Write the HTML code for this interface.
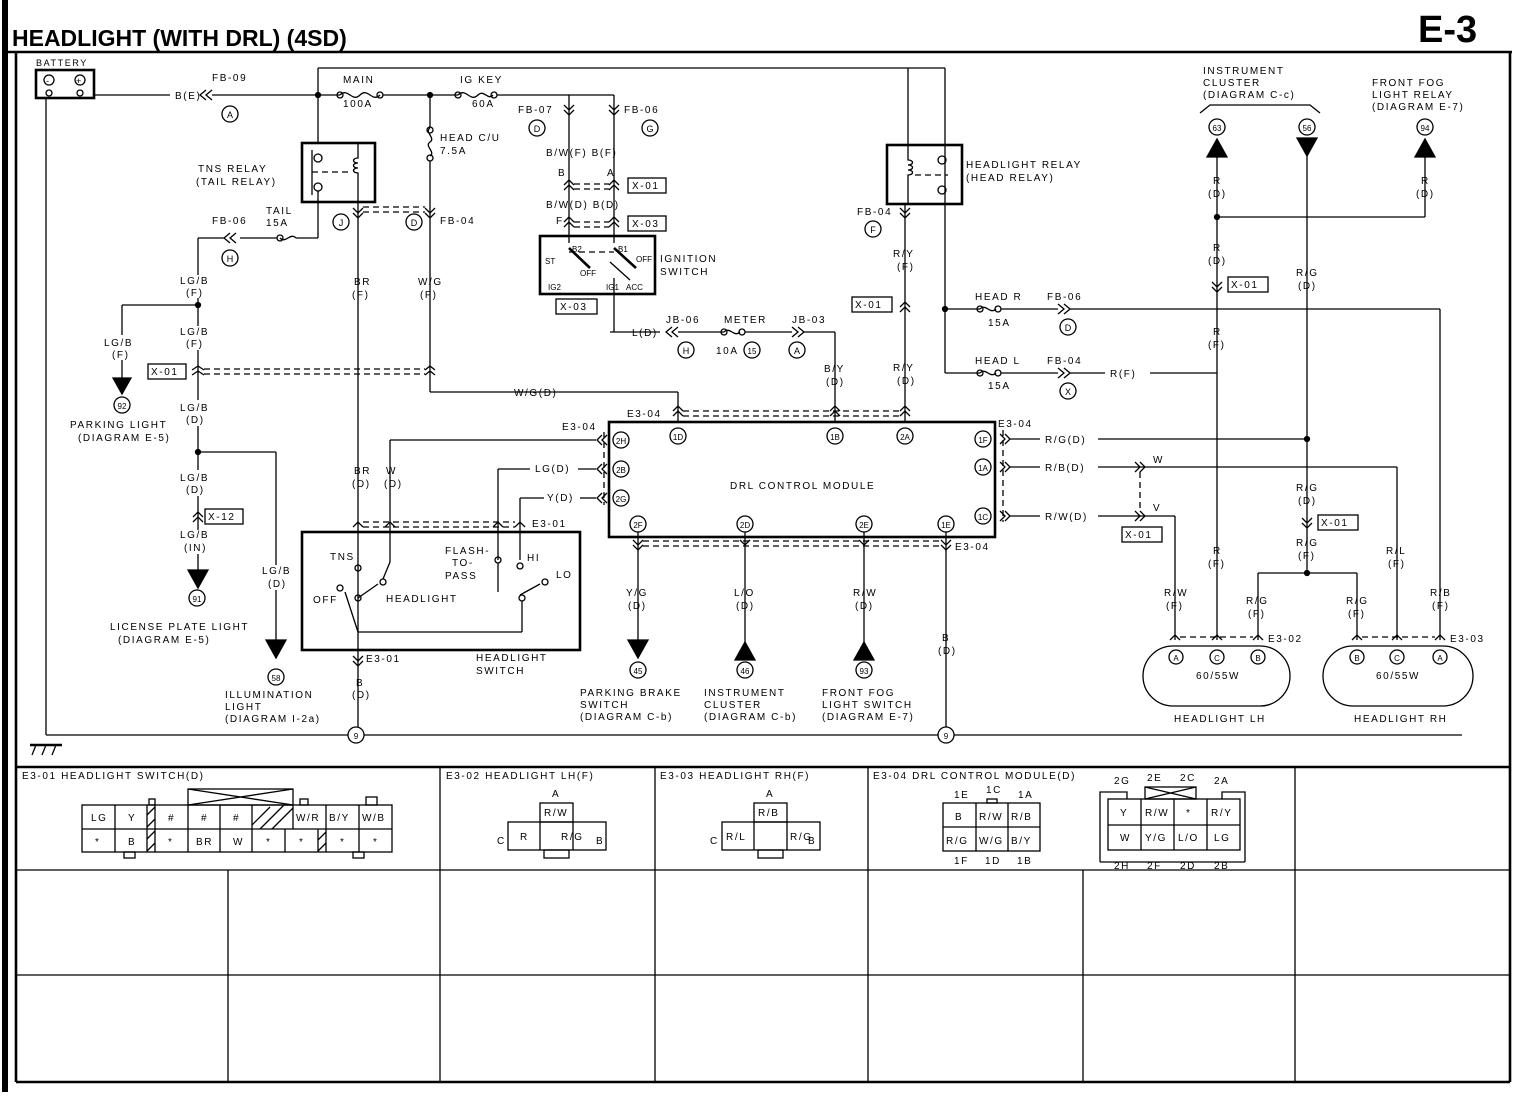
<!DOCTYPE html>
<html><head><meta charset="utf-8">
<style>
html,body{margin:0;padding:0;background:#fff;}
svg{display:block;}
text{font-family:"Liberation Sans",sans-serif;font-size:10px;letter-spacing:1.6px;fill:#000;}
.b{font-weight:bold;}
.c{text-anchor:middle;}
line,path,rect,circle,ellipse,polyline{stroke:#000;fill:none;stroke-width:1.3;}
.t{stroke-width:2.6;}
.d{stroke-dasharray:6 4;}
.f{fill:#000;}
</style></head><body>
<svg width="1520" height="1104" viewBox="0 0 1520 1104" xmlns="http://www.w3.org/2000/svg">
<!-- frame -->
<rect x="2" y="0" width="6" height="1092" class="f" style="stroke:none"/>
<text x="12" y="46" class="b" style="font-size:23px;letter-spacing:0">HEADLIGHT (WITH DRL) (4SD)</text>
<text x="1418" y="42" class="b" style="font-size:38px;letter-spacing:0">E-3</text>
<line x1="8" y1="52" x2="1512" y2="52" class="t"/>
<line x1="16" y1="52" x2="16" y2="1082" class="t"/>
<line x1="1510" y1="52" x2="1510" y2="1082" class="t"/>
<line x1="16" y1="1082" x2="1510" y2="1082" class="t"/>
<line x1="16" y1="767" x2="1510" y2="767" class="t"/>
<line x1="16" y1="870" x2="1510" y2="870"/>
<line x1="16" y1="975" x2="1510" y2="975"/>
<g>
<line x1="440" y1="767" x2="440" y2="1082"/><line x1="655" y1="767" x2="655" y2="1082"/>
<line x1="868" y1="767" x2="868" y2="1082"/><line x1="1295" y1="767" x2="1295" y2="1082"/>
<line x1="228" y1="870" x2="228" y2="1082"/><line x1="1083" y1="870" x2="1083" y2="1082"/>
</g>

<!-- battery -->
<text x="36" y="66" style="font-size:9px">BATTERY</text>
<rect x="36" y="70" width="58" height="28" class="t"/>
<circle cx="49" cy="80" r="5"/><text x="46" y="84" style="font-size:9px">-</text>
<circle cx="80" cy="80" r="5"/><text x="76" y="84" style="font-size:9px">+</text>
<circle cx="49" cy="93" r="3"/><circle cx="80" cy="93" r="3"/>
<line x1="46" y1="98" x2="46" y2="735"/>
<line x1="46" y1="735" x2="1462" y2="735"/>
<line x1="30" y1="745" x2="62" y2="745" class="t"/>
<line x1="36" y1="745" x2="32" y2="755"/><line x1="46" y1="745" x2="42" y2="755"/><line x1="56" y1="745" x2="52" y2="755"/>
<!-- main supply -->
<line x1="94" y1="95" x2="170" y2="95"/><text x="175" y="99">B(E)</text>
<line x1="212" y1="95" x2="340" y2="95"/>
<text x="212" y="81">FB-09</text><path d="M206 90 l-6 5 l6 5 M212 90 l-6 5 l6 5"/>
<circle cx="230" cy="114" r="8"/><text x="230" y="118" class="c" style="font-size:9px;letter-spacing:0">A</text>
<line x1="318" y1="68" x2="945" y2="68"/>
<line x1="318" y1="68" x2="318" y2="143"/>
<circle cx="318" cy="95" r="2.5" class="f"/>
<path d="M340 95 c8 -8 12 8 20 0 c8 -8 12 8 20 0"/><circle cx="340" cy="95" r="3"/><circle cx="380" cy="95" r="3"/>
<text x="343" y="83">MAIN</text><text x="343" y="107">100A</text>
<line x1="383" y1="95" x2="458" y2="95"/>
<circle cx="430" cy="95" r="2.5" class="f"/>
<path d="M458 95 c8 -8 12 8 20 0 c6 -6 10 6 15 0"/><circle cx="458" cy="95" r="3"/><circle cx="494" cy="95" r="3"/>
<text x="460" y="83">IG KEY</text><text x="472" y="107">60A</text>
<line x1="497" y1="95" x2="614" y2="95"/>
<line x1="569" y1="95" x2="569" y2="243"/><line x1="614" y1="95" x2="614" y2="243"/>
<path d="M564 105 l5 5 l5 -5 M564 110 l5 5 l5 -5"/><path d="M609 105 l5 5 l5 -5 M609 110 l5 5 l5 -5"/>
<text x="518" y="113">FB-07</text><text x="624" y="113">FB-06</text>
<circle cx="537" cy="128" r="8"/><text x="537" y="132" class="c" style="font-size:9px;letter-spacing:0">D</text>
<circle cx="650" cy="128" r="8"/><text x="650" y="132" class="c" style="font-size:9px;letter-spacing:0">G</text>
<text x="546" y="156">B/W(F) B(F)</text>
<text x="558" y="176">B</text><text x="607" y="176">A</text>
<path d="M564 185 l5 -5 l5 5 M564 190 l5 -5 l5 5 M609 185 l5 -5 l5 5 M609 190 l5 -5 l5 5"/>
<line x1="574" y1="184" x2="609" y2="184" class="d"/><line x1="574" y1="189" x2="609" y2="189" class="d"/>
<rect x="628" y="178" width="38" height="15"/><text x="632" y="189">X-01</text>
<text x="546" y="208">B/W(D) B(D)</text>
<text x="556" y="224">F</text>
<path d="M564 222 l5 -5 l5 5 M564 227 l5 -5 l5 5 M609 222 l5 -5 l5 5 M609 227 l5 -5 l5 5"/>
<line x1="574" y1="222" x2="609" y2="222" class="d"/><line x1="574" y1="227" x2="609" y2="227" class="d"/>
<rect x="628" y="216" width="38" height="15"/><text x="632" y="227">X-03</text>
<!-- ignition switch -->
<rect x="540" y="236" width="115" height="58" class="t"/>
<text x="572" y="252" style="font-size:8px;letter-spacing:0">B2</text><text x="618" y="252" style="font-size:8px;letter-spacing:0">B1</text>
<text x="545" y="264" style="font-size:8px;letter-spacing:0">ST</text><text x="636" y="262" style="font-size:8px;letter-spacing:0">OFF</text>
<text x="580" y="276" style="font-size:8px;letter-spacing:0">OFF</text>
<text x="548" y="290" style="font-size:8px;letter-spacing:0">IG2</text><text x="606" y="290" style="font-size:8px;letter-spacing:0">IG1</text><text x="626" y="290" style="font-size:8px;letter-spacing:0">ACC</text>
<line x1="569" y1="248" x2="590" y2="268" class="t"/><line x1="614" y1="248" x2="636" y2="268" class="t"/><line x1="610" y1="262" x2="630" y2="280"/>
<line x1="569" y1="252" x2="614" y2="252" class="d"/>
<line x1="614" y1="278" x2="614" y2="332"/>
<line x1="610" y1="332" x2="660" y2="332"/><text x="632" y="336">L(D)</text>
<rect x="556" y="299" width="41" height="15"/><text x="560" y="310">X-03</text>
<text x="660" y="262">IGNITION</text><text x="660" y="275">SWITCH</text>
<!-- TNS relay -->
<rect x="302" y="143" width="73" height="59" class="t"/>
<circle cx="318" cy="158" r="4"/><circle cx="318" cy="187" r="4"/>
<line x1="312" y1="150" x2="312" y2="195"/><line x1="312" y1="172" x2="350" y2="172" class="d"/>
<path d="M358 143 v15 c-6 0 -6 5 0 5 c-6 0 -6 5 0 5 c-6 0 -6 5 0 5 v30"/>
<text x="198" y="172">TNS RELAY</text><text x="196" y="185">(TAIL RELAY)</text>
<line x1="358" y1="202" x2="358" y2="735"/>
<line x1="318" y1="191" x2="318" y2="238"/><line x1="318" y1="238" x2="296" y2="238"/>
<path d="M296 238 c-6 -6 -10 6 -16 0"/><circle cx="280" cy="238" r="3"/>
<text x="266" y="214">TAIL</text><text x="266" y="226">15A</text>
<line x1="277" y1="238" x2="240" y2="238"/>
<text x="212" y="224">FB-06</text><path d="M236 233 l-6 5 l6 5 M230 233 l-6 5 l6 5"/>
<line x1="224" y1="238" x2="198" y2="238"/><line x1="198" y1="238" x2="198" y2="275"/>
<circle cx="230" cy="258" r="8"/><text x="230" y="262" class="c" style="font-size:9px;letter-spacing:0">H</text>
<path d="M353 208 l5 5 l5 -5 M353 213 l5 5 l5 -5 M425 208 l5 5 l5 -5 M425 213 l5 5 l5 -5"/>
<line x1="363" y1="207" x2="425" y2="207" class="d"/><line x1="363" y1="212" x2="425" y2="212" class="d"/>
<text x="440" y="224">FB-04</text>
<circle cx="341" cy="222" r="8"/><text x="341" y="226" class="c" style="font-size:9px;letter-spacing:0">J</text>
<circle cx="414" cy="222" r="8"/><text x="414" y="226" class="c" style="font-size:9px;letter-spacing:0">D</text>
<!-- head c/u -->
<line x1="430" y1="95" x2="430" y2="128"/><path d="M430 128 c-6 4 6 10 0 14 c-6 4 6 10 0 14"/>
<circle cx="430" cy="130" r="3"/><circle cx="430" cy="158" r="3"/>
<text x="440" y="141">HEAD C/U</text><text x="440" y="154">7.5A</text>
<line x1="430" y1="161" x2="430" y2="392"/><line x1="430" y1="392" x2="560" y2="392"/>
<text x="514" y="396">W/G(D)</text><line x1="560" y1="392" x2="678" y2="392"/><line x1="678" y1="392" x2="678" y2="422"/>
<text x="354" y="285">BR</text><text x="352" y="298">(F)</text>
<text x="418" y="285">W/G</text><text x="420" y="298">(F)</text>
<!-- LG/B left -->
<text x="180" y="284">LG/B</text><text x="186" y="296">(F)</text>
<line x1="198" y1="298" x2="198" y2="326"/>
<circle cx="198" cy="305" r="2.5" class="f"/><line x1="122" y1="305" x2="198" y2="305"/><line x1="122" y1="305" x2="122" y2="335"/>
<text x="104" y="346">LG/B</text><text x="112" y="358">(F)</text>
<line x1="122" y1="360" x2="122" y2="378"/><path d="M113 378 h18 l-9 16 z" class="f"/>
<circle cx="122" cy="405" r="8"/><text x="122" y="409" class="c" style="font-size:8px;letter-spacing:0">92</text>
<text x="70" y="428">PARKING LIGHT</text><text x="78" y="441">(DIAGRAM E-5)</text>
<text x="180" y="335">LG/B</text><text x="186" y="347">(F)</text>
<line x1="198" y1="350" x2="198" y2="400"/>
<rect x="148" y="364" width="38" height="15"/><text x="151" y="375">X-01</text>
<path d="M192 370 l6 -4 l6 4 M192 375 l6 -4 l6 4 M425 370 l5 -4 l5 4 M425 375 l5 -4 l5 4"/>
<line x1="204" y1="369" x2="425" y2="369" class="d"/><line x1="204" y1="374" x2="425" y2="374" class="d"/>
<text x="180" y="411">LG/B</text><text x="186" y="423">(D)</text>
<line x1="198" y1="426" x2="198" y2="470"/><circle cx="198" cy="452" r="2.5" class="f"/>
<line x1="198" y1="452" x2="276" y2="452"/><line x1="276" y1="452" x2="276" y2="565"/>
<text x="180" y="481">LG/B</text><text x="186" y="493">(D)</text>
<line x1="198" y1="496" x2="198" y2="530"/>
<path d="M193 517 l5 -5 l5 5 M193 522 l5 -5 l5 5"/>
<rect x="205" y="509" width="38" height="15"/><text x="208" y="520">X-12</text>
<text x="180" y="538">LG/B</text><text x="184" y="551">(IN)</text>
<line x1="198" y1="554" x2="198" y2="570"/><path d="M188 570 h20 l-10 18 z" class="f"/>
<circle cx="197" cy="598" r="8"/><text x="197" y="602" class="c" style="font-size:8px;letter-spacing:0">91</text>
<text x="110" y="630">LICENSE PLATE LIGHT</text><text x="118" y="643">(DIAGRAM E-5)</text>
<text x="262" y="574">LG/B</text><text x="268" y="587">(D)</text>
<line x1="276" y1="590" x2="276" y2="640"/><path d="M266 640 h20 l-10 18 z" class="f"/>
<circle cx="276" cy="677" r="8"/><text x="276" y="681" class="c" style="font-size:8px;letter-spacing:0">58</text>
<text x="225" y="698">ILLUMINATION</text><text x="225" y="710">LIGHT</text><text x="225" y="722">(DIAGRAM I-2a)</text>
<!-- JB / meter -->
<text x="666" y="323">JB-06</text><text x="724" y="323">METER</text><text x="792" y="323">JB-03</text>
<path d="M672 327 l-6 5 l6 5 M678 327 l-6 5 l6 5"/>
<line x1="678" y1="332" x2="724" y2="332"/><path d="M724 332 c6 -6 10 6 16 0"/><circle cx="724" cy="332" r="3"/><circle cx="742" cy="332" r="3"/>
<line x1="745" y1="332" x2="792" y2="332"/><path d="M792 327 l6 5 l-6 5 M798 327 l6 5 l-6 5"/>
<line x1="804" y1="332" x2="835" y2="332"/><line x1="835" y1="332" x2="835" y2="422"/>
<circle cx="686" cy="350" r="8"/><text x="686" y="354" class="c" style="font-size:9px;letter-spacing:0">H</text>
<text x="716" y="354">10A</text>
<circle cx="752" cy="350" r="8"/><text x="752" y="354" class="c" style="font-size:8px;letter-spacing:0">15</text>
<circle cx="797" cy="350" r="8"/><text x="797" y="354" class="c" style="font-size:9px;letter-spacing:0">A</text>
<text x="824" y="372">B/Y</text><text x="826" y="385">(D)</text>
<!-- headlight relay -->
<line x1="908" y1="68" x2="908" y2="145"/><line x1="945" y1="68" x2="945" y2="373"/>
<rect x="887" y="145" width="75" height="59" class="t"/>
<path d="M908 145 v15 c6 0 6 5 0 5 c6 0 6 5 0 5 c6 0 6 5 0 5 v29"/>
<circle cx="942" cy="160" r="4"/><circle cx="942" cy="190" r="4"/><line x1="915" y1="175" x2="948" y2="175" class="d"/>
<text x="966" y="168">HEADLIGHT RELAY</text><text x="966" y="181">(HEAD RELAY)</text>
<line x1="905" y1="204" x2="905" y2="422"/>
<path d="M900 208 l5 5 l5 -5 M900 213 l5 5 l5 -5"/>
<text x="857" y="215">FB-04</text>
<circle cx="873" cy="229" r="8"/><text x="873" y="233" class="c" style="font-size:9px;letter-spacing:0">F</text>
<text x="893" y="257">R/Y</text><text x="897" y="270">(F)</text>
<rect x="852" y="297" width="40" height="15"/><text x="855" y="308">X-01</text>
<path d="M900 307 l5 -5 l5 5 M900 312 l5 -5 l5 5"/>
<text x="893" y="371">R/Y</text><text x="897" y="384">(D)</text>
<!-- head R / head L fuses -->
<circle cx="945" cy="309" r="2.5" class="f"/>
<line x1="945" y1="309" x2="980" y2="309"/><path d="M980 309 c6 -6 10 6 16 0"/><circle cx="980" cy="309" r="3"/><circle cx="998" cy="309" r="3"/>
<line x1="1001" y1="309" x2="1058" y2="309"/><path d="M1058 304 l6 5 l-6 5 M1064 304 l6 5 l-6 5"/>
<line x1="1070" y1="309" x2="1440" y2="309"/>
<text x="975" y="300">HEAD R</text><text x="1047" y="300">FB-06</text><text x="988" y="326">15A</text>
<circle cx="1068" cy="327" r="8"/><text x="1068" y="331" class="c" style="font-size:9px;letter-spacing:0">D</text>
<line x1="945" y1="373" x2="980" y2="373"/><path d="M980 373 c6 -6 10 6 16 0"/><circle cx="980" cy="373" r="3"/><circle cx="998" cy="373" r="3"/>
<line x1="1001" y1="373" x2="1058" y2="373"/><path d="M1058 368 l6 5 l-6 5 M1064 368 l6 5 l-6 5"/>
<line x1="1070" y1="373" x2="1105" y2="373"/><text x="1110" y="377">R(F)</text><line x1="1150" y1="373" x2="1217" y2="373"/>
<text x="975" y="364">HEAD L</text><text x="1047" y="364">FB-04</text><text x="988" y="389">15A</text>
<circle cx="1068" cy="391" r="8"/><text x="1068" y="395" class="c" style="font-size:9px;letter-spacing:0">X</text>
<!-- DRL module -->
<rect x="609" y="422" width="386" height="115" class="t"/>
<text x="730" y="489">DRL CONTROL MODULE</text>
<path d="M673 416 l5 -5 l5 5 M673 411 l5 -5 l5 5 M830 416 l5 -5 l5 5 M830 411 l5 -5 l5 5 M900 416 l5 -5 l5 5 M900 411 l5 -5 l5 5"/>
<line x1="683" y1="411" x2="900" y2="411" class="d"/><line x1="683" y1="416" x2="900" y2="416" class="d"/>
<text x="627" y="417">E3-04</text><text x="998" y="427">E3-04</text><text x="562" y="430">E3-04</text>
<g style="font-size:8px;letter-spacing:0">
<circle cx="678" cy="436" r="8"/><text x="678" y="440" class="c" style="font-size:8px;letter-spacing:0">1D</text>
<circle cx="835" cy="436" r="8"/><text x="835" y="440" class="c" style="font-size:8px;letter-spacing:0">1B</text>
<circle cx="905" cy="436" r="8"/><text x="905" y="440" class="c" style="font-size:8px;letter-spacing:0">2A</text>
<circle cx="621" cy="440" r="8"/><text x="621" y="444" class="c" style="font-size:8px;letter-spacing:0">2H</text>
<circle cx="621" cy="469" r="8"/><text x="621" y="473" class="c" style="font-size:8px;letter-spacing:0">2B</text>
<circle cx="621" cy="498" r="8"/><text x="621" y="502" class="c" style="font-size:8px;letter-spacing:0">2G</text>
<circle cx="983" cy="439" r="8"/><text x="983" y="443" class="c" style="font-size:8px;letter-spacing:0">1F</text>
<circle cx="983" cy="467" r="8"/><text x="983" y="471" class="c" style="font-size:8px;letter-spacing:0">1A</text>
<circle cx="983" cy="516" r="8"/><text x="983" y="520" class="c" style="font-size:8px;letter-spacing:0">1C</text>
<circle cx="638" cy="524" r="8"/><text x="638" y="528" class="c" style="font-size:8px;letter-spacing:0">2F</text>
<circle cx="745" cy="524" r="8"/><text x="745" y="528" class="c" style="font-size:8px;letter-spacing:0">2D</text>
<circle cx="864" cy="524" r="8"/><text x="864" y="528" class="c" style="font-size:8px;letter-spacing:0">2E</text>
<circle cx="946" cy="524" r="8"/><text x="946" y="528" class="c" style="font-size:8px;letter-spacing:0">1E</text>
</g>
<!-- module left wires -->
<line x1="390" y1="440" x2="596" y2="440"/><line x1="390" y1="440" x2="390" y2="562"/>
<path d="M602 435 l-5 5 l5 5 M607 435 l-5 5 l5 5 M602 464 l-5 5 l5 5 M607 464 l-5 5 l5 5 M602 493 l-5 5 l5 5 M607 493 l-5 5 l5 5"/>
<line x1="604" y1="432" x2="604" y2="505" class="d"/>
<line x1="498" y1="469" x2="530" y2="469"/><text x="535" y="472">LG(D)</text><line x1="578" y1="469" x2="596" y2="469"/><line x1="498" y1="469" x2="498" y2="560"/>
<line x1="520" y1="498" x2="544" y2="498"/><text x="547" y="501">Y(D)</text><line x1="580" y1="498" x2="596" y2="498"/><line x1="520" y1="498" x2="520" y2="560"/>
<text x="354" y="474">BR</text><text x="352" y="487">(D)</text><text x="386" y="474">W</text><text x="384" y="487">(D)</text>
<!-- headlight switch -->
<path d="M353 527 l5 -5 l5 5 M385 527 l5 -5 l5 5 M493 527 l5 -5 l5 5 M515 527 l5 -5 l5 5"/>
<line x1="363" y1="522" x2="515" y2="522" class="d"/><line x1="363" y1="527" x2="515" y2="527" class="d"/>
<text x="532" y="527">E3-01</text>
<rect x="302" y="532" width="278" height="118" class="t"/>
<text x="330" y="560">TNS</text><text x="445" y="554">FLASH-</text><text x="452" y="566">TO-</text><text x="445" y="579">PASS</text>
<text x="527" y="561">HI</text><text x="556" y="578">LO</text><text x="313" y="603">OFF</text><text x="386" y="602">HEADLIGHT</text>
<circle cx="358" cy="568" r="3"/><circle cx="383" cy="582" r="3"/><circle cx="358" cy="598" r="3"/><circle cx="340" cy="588" r="3"/>
<line x1="358" y1="632" x2="345" y2="592"/><line x1="358" y1="598" x2="378" y2="584"/>
<circle cx="498" cy="560" r="3"/><circle cx="520" cy="566" r="3"/><circle cx="522" cy="598" r="3"/><circle cx="545" cy="582" r="3"/>
<line x1="498" y1="563" x2="498" y2="592"/><line x1="520" y1="595" x2="540" y2="584"/>
<line x1="358" y1="632" x2="522" y2="632"/><line x1="522" y1="632" x2="522" y2="601"/>
<line x1="390" y1="562" x2="383" y2="579"/>
<path d="M353 656 l5 5 l5 -5 M353 661 l5 5 l5 -5"/>
<text x="366" y="662">E3-01</text><text x="476" y="661">HEADLIGHT</text><text x="476" y="674">SWITCH</text>
<text x="356" y="686">B</text><text x="352" y="698">(D)</text>
<circle cx="356" cy="735" r="8" style="fill:#fff"/><text x="356" y="739" class="c" style="font-size:8px;letter-spacing:0">9</text>
<!-- module bottom wires -->
<path d="M633 540 l5 5 l5 -5 M740 540 l5 5 l5 -5 M859 540 l5 5 l5 -5 M941 540 l5 5 l5 -5 M633 545 l5 5 l5 -5 M941 545 l5 5 l5 -5"/>
<line x1="643" y1="541" x2="941" y2="541" class="d"/><line x1="643" y1="546" x2="941" y2="546" class="d"/>
<text x="955" y="550">E3-04</text>
<line x1="638" y1="532" x2="638" y2="640"/><line x1="745" y1="532" x2="745" y2="660"/><line x1="864" y1="532" x2="864" y2="660"/><line x1="946" y1="532" x2="946" y2="727"/>
<text x="626" y="596">Y/G</text><text x="628" y="609">(D)</text>
<text x="734" y="596">L/O</text><text x="736" y="609">(D)</text>
<text x="853" y="596">R/W</text><text x="855" y="609">(D)</text>
<text x="942" y="641">B</text><text x="938" y="654">(D)</text>
<path d="M628 640 h20 l-10 18 z" class="f"/><path d="M735 660 h20 l-10 -18 z" class="f"/><path d="M854 660 h20 l-10 -18 z" class="f"/>
<circle cx="638" cy="670" r="8"/><text x="638" y="674" class="c" style="font-size:8px;letter-spacing:0">45</text>
<circle cx="745" cy="670" r="8"/><text x="745" y="674" class="c" style="font-size:8px;letter-spacing:0">46</text>
<circle cx="864" cy="670" r="8"/><text x="864" y="674" class="c" style="font-size:8px;letter-spacing:0">93</text>
<circle cx="946" cy="735" r="8" style="fill:#fff"/><text x="946" y="739" class="c" style="font-size:8px;letter-spacing:0">9</text>
<text x="580" y="696">PARKING BRAKE</text><text x="580" y="708">SWITCH</text><text x="580" y="720">(DIAGRAM C-b)</text>
<text x="704" y="696">INSTRUMENT</text><text x="704" y="708">CLUSTER</text><text x="704" y="720">(DIAGRAM C-b)</text>
<text x="822" y="696">FRONT FOG</text><text x="822" y="708">LIGHT SWITCH</text><text x="822" y="720">(DIAGRAM E-7)</text>
<!-- module right wires -->
<path d="M1000 434 l5 5 l-5 5 M1005 434 l5 5 l-5 5 M1000 462 l5 5 l-5 5 M1005 462 l5 5 l-5 5 M1000 511 l5 5 l-5 5 M1005 511 l5 5 l-5 5"/>
<line x1="1003" y1="430" x2="1003" y2="522" class="d"/>
<line x1="1010" y1="439" x2="1040" y2="439"/><text x="1045" y="443">R/G(D)</text><line x1="1098" y1="439" x2="1307" y2="439"/><circle cx="1307" cy="439" r="2.5" class="f"/>
<line x1="1010" y1="467" x2="1040" y2="467"/><text x="1045" y="471">R/B(D)</text><line x1="1098" y1="467" x2="1397" y2="467"/>
<line x1="1010" y1="516" x2="1040" y2="516"/><text x="1045" y="520">R/W(D)</text><line x1="1098" y1="516" x2="1175" y2="516"/>
<path d="M1135 462 l5 5 l-5 5 M1140 462 l5 5 l-5 5 M1135 511 l5 5 l-5 5 M1140 511 l5 5 l-5 5"/>
<line x1="1140" y1="472" x2="1140" y2="510" class="d"/><text x="1153" y="463">W</text><text x="1153" y="511">V</text>
<rect x="1122" y="527" width="40" height="15"/><text x="1125" y="538">X-01</text>
<line x1="1175" y1="516" x2="1175" y2="640"/>
<text x="1164" y="596">R/W</text><text x="1166" y="609">(F)</text>
<!-- right top -->
<text x="1203" y="74">INSTRUMENT</text><text x="1203" y="86">CLUSTER</text><text x="1203" y="98">(DIAGRAM C-c)</text>
<path d="M1200 113 l10 -8 h100 l10 8"/>
<text x="1372" y="86">FRONT FOG</text><text x="1372" y="98">LIGHT RELAY</text><text x="1372" y="110">(DIAGRAM E-7)</text>
<circle cx="1217" cy="127" r="8"/><text x="1217" y="131" class="c" style="font-size:8px;letter-spacing:0">63</text>
<circle cx="1307" cy="127" r="8"/><text x="1307" y="131" class="c" style="font-size:8px;letter-spacing:0">56</text>
<circle cx="1425" cy="127" r="8"/><text x="1425" y="131" class="c" style="font-size:8px;letter-spacing:0">94</text>
<path d="M1207 157 h20 l-10 -18 z" class="f"/><path d="M1297 138 h20 l-10 18 z" class="f"/><path d="M1415 157 h20 l-10 -18 z" class="f"/>
<line x1="1217" y1="157" x2="1217" y2="640"/><line x1="1307" y1="156" x2="1307" y2="573"/><line x1="1425" y1="157" x2="1425" y2="217"/>
<text x="1213" y="184">R</text><text x="1208" y="197">(D)</text><text x="1421" y="184">R</text><text x="1416" y="197">(D)</text>
<line x1="1217" y1="217" x2="1425" y2="217"/><circle cx="1217" cy="217" r="2.5" class="f"/>
<text x="1213" y="251">R</text><text x="1208" y="264">(D)</text>
<path d="M1212 282 l5 5 l5 -5 M1212 287 l5 5 l5 -5"/>
<rect x="1228" y="277" width="40" height="15"/><text x="1231" y="288">X-01</text>
<text x="1296" y="276">R/G</text><text x="1298" y="289">(D)</text>
<text x="1213" y="335">R</text><text x="1208" y="348">(F)</text>
<text x="1296" y="491">R/G</text><text x="1298" y="504">(D)</text>
<path d="M1302 518 l5 5 l5 -5 M1302 523 l5 5 l5 -5"/>
<rect x="1318" y="515" width="40" height="15"/><text x="1321" y="526">X-01</text>
<text x="1296" y="546">R/G</text><text x="1298" y="559">(F)</text>
<circle cx="1307" cy="573" r="2.5" class="f"/>
<line x1="1258" y1="573" x2="1357" y2="573"/><line x1="1258" y1="573" x2="1258" y2="640"/><line x1="1357" y1="573" x2="1357" y2="640"/>
<line x1="1397" y1="467" x2="1397" y2="640"/><line x1="1440" y1="309" x2="1440" y2="640"/>
<text x="1213" y="554">R</text><text x="1208" y="567">(F)</text>
<text x="1386" y="554">R/L</text><text x="1388" y="567">(F)</text>
<text x="1246" y="604">R/G</text><text x="1248" y="617">(F)</text>
<text x="1346" y="604">R/G</text><text x="1348" y="617">(F)</text>
<text x="1430" y="596">R/B</text><text x="1432" y="609">(F)</text>
<!-- headlights -->
<path d="M1170 640 l5 -5 l5 5 M1212 640 l5 -5 l5 5 M1253 640 l5 -5 l5 5 M1352 640 l5 -5 l5 5 M1392 640 l5 -5 l5 5 M1435 640 l5 -5 l5 5"/>
<line x1="1180" y1="637" x2="1253" y2="637" class="d"/><line x1="1362" y1="637" x2="1435" y2="637" class="d"/>
<text x="1268" y="642">E3-02</text><text x="1450" y="642">E3-03</text>
<rect x="1143" y="646" width="147" height="60" rx="30"/>
<rect x="1323" y="646" width="150" height="60" rx="30"/>
<circle cx="1176" cy="657" r="7"/><text x="1176" y="661" class="c" style="font-size:8px;letter-spacing:0">A</text>
<circle cx="1217" cy="657" r="7"/><text x="1217" y="661" class="c" style="font-size:8px;letter-spacing:0">C</text>
<circle cx="1258" cy="657" r="7"/><text x="1258" y="661" class="c" style="font-size:8px;letter-spacing:0">B</text>
<circle cx="1357" cy="657" r="7"/><text x="1357" y="661" class="c" style="font-size:8px;letter-spacing:0">B</text>
<circle cx="1397" cy="657" r="7"/><text x="1397" y="661" class="c" style="font-size:8px;letter-spacing:0">C</text>
<circle cx="1440" cy="657" r="7"/><text x="1440" y="661" class="c" style="font-size:8px;letter-spacing:0">A</text>
<text x="1196" y="679">60/55W</text><text x="1376" y="679">60/55W</text>
<text x="1174" y="722">HEADLIGHT LH</text><text x="1354" y="722">HEADLIGHT RH</text>
<!-- bottom table row 1 -->
<text x="22" y="779">E3-01 HEADLIGHT SWITCH(D)</text>
<text x="446" y="779">E3-02 HEADLIGHT LH(F)</text>
<text x="660" y="779">E3-03 HEADLIGHT RH(F)</text>
<text x="873" y="779">E3-04 DRL CONTROL MODULE(D)</text>
<g>
<rect x="188" y="789" width="105" height="16"/><path d="M188 789 l105 16 M293 789 l-105 16"/>
<rect x="82" y="805" width="310" height="47"/><line x1="82" y1="829" x2="392" y2="829"/>
<line x1="115" y1="805" x2="115" y2="852"/><line x1="147" y1="805" x2="147" y2="852"/><line x1="155" y1="805" x2="155" y2="852"/>
<line x1="188" y1="805" x2="188" y2="852"/><line x1="220" y1="805" x2="220" y2="852"/><line x1="252" y1="805" x2="252" y2="852"/>
<line x1="293" y1="805" x2="293" y2="829"/><line x1="285" y1="829" x2="285" y2="852"/><line x1="318" y1="829" x2="318" y2="852"/>
<line x1="326" y1="805" x2="326" y2="852"/><line x1="359" y1="805" x2="359" y2="852"/>
<path d="M147 815 l8 -8 M147 827 l8 -8 M147 839 l8 -8 M147 851 l8 -8 M252 825 l18 -18 M260 829 l24 -24 M272 829 l21 -21 M318 840 l8 -8 M318 851 l8 -8"/>
<rect x="124" y="852" width="11" height="6"/><rect x="353" y="852" width="11" height="6"/><rect x="149" y="799" width="6" height="6"/><rect x="300" y="799" width="8" height="6"/><rect x="366" y="797" width="11" height="8"/>
</g>
<g style="font-size:9px">
<text x="91" y="821">LG</text><text x="128" y="821">Y</text><text x="168" y="821">#</text><text x="201" y="821">#</text><text x="233" y="821">#</text><text x="296" y="821">W/R</text><text x="329" y="821">B/Y</text><text x="362" y="821">W/B</text>
<text x="95" y="845">*</text><text x="128" y="845">B</text><text x="168" y="845">*</text><text x="196" y="845">BR</text><text x="233" y="845">W</text><text x="266" y="845">*</text><text x="299" y="845">*</text><text x="340" y="845">*</text><text x="373" y="845">*</text>
</g>
<!-- E3-02 -->
<text x="552" y="797">A</text>
<rect x="540" y="803" width="33" height="19"/><text x="544" y="816">R/W</text>
<rect x="508" y="822" width="98" height="28"/><line x1="540" y1="822" x2="540" y2="850"/><line x1="573" y1="822" x2="573" y2="850"/>
<rect x="544" y="850" width="25" height="8"/>
<text x="520" y="840">R</text><text x="561" y="840">R/G</text><text x="497" y="844">C</text><text x="596" y="844">B</text>
<!-- E3-03 -->
<text x="766" y="797">A</text>
<rect x="754" y="803" width="33" height="19"/><text x="758" y="816">R/B</text>
<rect x="722" y="822" width="98" height="28"/><line x1="754" y1="822" x2="754" y2="850"/><line x1="787" y1="822" x2="787" y2="850"/>
<rect x="758" y="850" width="25" height="8"/>
<text x="726" y="840">R/L</text><text x="790" y="840">R/G</text><text x="710" y="844">C</text><text x="808" y="844">B</text>
<!-- E3-04 -->
<text x="954" y="798">1E</text><text x="986" y="793">1C</text><text x="1018" y="798">1A</text>
<rect x="943" y="803" width="97" height="48"/><line x1="943" y1="827" x2="1040" y2="827"/><line x1="976" y1="803" x2="976" y2="851"/><line x1="1008" y1="803" x2="1008" y2="851"/>
<rect x="987" y="799" width="10" height="4"/>
<text x="955" y="820">B</text><text x="979" y="820">R/W</text><text x="1011" y="820">R/B</text>
<text x="946" y="844">R/G</text><text x="979" y="844">W/G</text><text x="1011" y="844">B/Y</text>
<text x="954" y="864">1F</text><text x="985" y="864">1D</text><text x="1017" y="864">1B</text>
<text x="1114" y="784">2G</text><text x="1147" y="781">2E</text><text x="1180" y="781">2C</text><text x="1214" y="784">2A</text>
<rect x="1145" y="787" width="51" height="12"/><path d="M1145 787 l51 12 M1196 787 l-51 12"/>
<path d="M1100 862 V792 H1127 V799 M1245 862 V792 H1222 V799 M1100 862 H1245"/>
<rect x="1108" y="799" width="132" height="51"/><line x1="1108" y1="825" x2="1240" y2="825"/>
<line x1="1141" y1="799" x2="1141" y2="850"/><line x1="1174" y1="799" x2="1174" y2="850"/><line x1="1207" y1="799" x2="1207" y2="850"/>
<text x="1120" y="816">Y</text><text x="1145" y="816">R/W</text><text x="1186" y="816">*</text><text x="1211" y="816">R/Y</text>
<text x="1120" y="841">W</text><text x="1145" y="841">Y/G</text><text x="1178" y="841">L/O</text><text x="1214" y="841">LG</text>
<text x="1114" y="869">2H</text><text x="1147" y="869">2F</text><text x="1180" y="869">2D</text><text x="1214" y="869">2B</text>
</svg>
</body></html>
